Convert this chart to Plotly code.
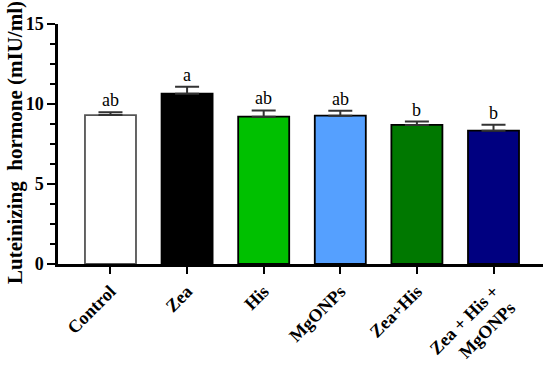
import plotly.graph_objects as go

categories = ["Control", "Zea", "His", "MgONPs", "Zea+His", "Zea + His +<br>MgONPs"]
means = [9.31, 10.64, 9.21, 9.27, 8.69, 8.33]
errors = [0.17, 0.44, 0.39, 0.31, 0.21, 0.38]
letters = ["ab", "a", "ab", "ab", "b", "b"]
colors = ["#FFFFFF", "#000000", "#00C000", "#55A0FF", "#007800", "#000080"]
outline = ["#555555", "#000000", "#000000", "#000000", "#000000", "#000000"]
ytick_vals = [0, 5, 10, 15]
y_title = "Luteinizing  hormone (mIU/ml)"

serif = "Liberation Serif, Times New Roman, serif"

fig = go.Figure()
fig.add_trace(go.Bar(
    x=list(range(len(categories))), y=means,
    marker=dict(color=colors, line=dict(color=outline, width=1.8)),
    error_y=dict(type="data", array=errors, arrayminus=[0]*len(errors), symmetric=False,
                 color="#333333", thickness=2, width=12),
    width=0.666,
))

for i, (m, e, t) in enumerate(zip(means, errors, letters)):
    fig.add_annotation(x=i, y=m + e, text=t, showarrow=False, yanchor="bottom", yshift=0,
                       font=dict(family=serif, size=18, color="black"))

fig.add_annotation(xref="paper", yref="paper", x=-0.089, y=0.508, text=f"<b>{y_title}</b>",
                   textangle=-90, showarrow=False, xanchor="center", yanchor="middle",
                   font=dict(family=serif, size=21, color="black"))

fig.update_layout(
    width=550, height=368,
    margin=dict(l=58, r=7, t=24, b=104),
    paper_bgcolor="white", plot_bgcolor="white",
    showlegend=False,
    font=dict(family=serif, color="black"),
)
fig.update_xaxes(
    range=[-0.685, 5.646], automargin=False,
    tickmode="array", tickvals=list(range(len(categories))), ticktext=[f"<b>{c}</b>" for c in categories],
    tickangle=-45, tickfont=dict(family=serif, size=18, color="black"),
    showline=True, linecolor="black", linewidth=2.5,
    ticks="outside", ticklen=7, tickwidth=2, tickcolor="black",
    showgrid=False, zeroline=False,
)
fig.update_yaxes(
    range=[0, 15], automargin=False,
    tickmode="array", tickvals=ytick_vals, ticktext=[f"<b>{v}</b>" for v in ytick_vals],
    tickfont=dict(family=serif, size=18, color="black"),
    showline=True, linecolor="black", linewidth=2.5,
    ticks="outside", ticklen=8, tickwidth=2, tickcolor="black",
    minor=dict(dtick=1.25, tick0=0, ticks="outside", ticklen=5, tickwidth=2, tickcolor="black", showgrid=False),
    showgrid=False, zeroline=False,
)

fig.write_html("out.html", config={"displayModeBar": False},
               post_script="document.body.style.margin='0';document.body.style.overflow='hidden';")
